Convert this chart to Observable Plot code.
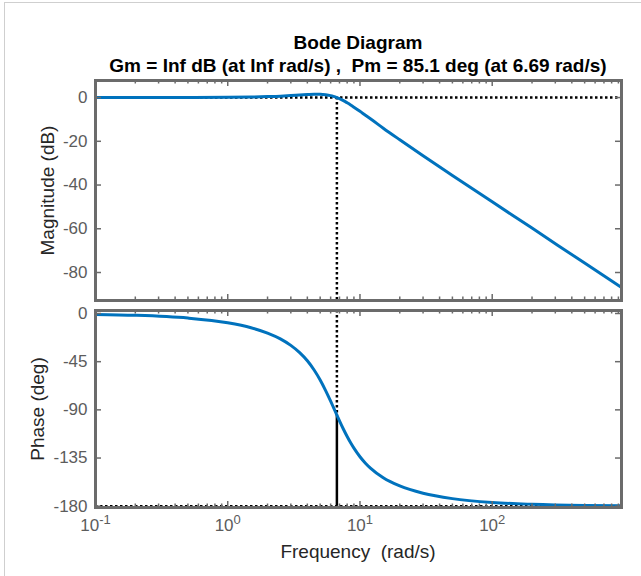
<!DOCTYPE html>
<html>
<head>
<meta charset="utf-8">
<script src="https://cdn.jsdelivr.net/npm/d3@7"></script>
<script src="https://cdn.jsdelivr.net/npm/@observablehq/plot@0.6"></script>
<style>
  html, body { margin: 0; padding: 0; background: #fff; overflow: hidden; }
  #fig { position: relative; width: 641px; height: 576px; background: #fff;
         font-family: "Liberation Sans", Arial, Helvetica, sans-serif; }
  .edge { position: absolute; left: 4px; top: 2px; width: 637px; height: 574px;
          border-top: 1px solid #cfcfcf; border-left: 1px solid #cfcfcf; box-sizing: border-box; }
  .ttl { position: absolute; left: 8px; width: 700px; text-align: center; font-weight: bold;
         font-size: 19px; line-height: 22px; color: #000; white-space: pre; }
  .xl { position: absolute; left: 58px; width: 600px; text-align: center;
        font-size: 19px; line-height: 22px; color: #262626; white-space: pre; }
  .panel { position: absolute; left: 0; }
</style>
</head>
<body>
<div id="fig">
  <div class="edge"></div>
  <div class="ttl" id="title" style="top:32px"></div>
  <div class="ttl" id="subtitle" style="top:55px"></div>
  <div class="panel" id="mag" style="top:0px"></div>
  <div class="panel" id="phase" style="top:305px"></div>
  <div class="xl" id="xlabel" style="top:541px"></div>
</div>
<script>
// ---- data ----
const freq     = [0.1, 0.2, 0.5, 1, 1.5, 2, 2.5, 3, 3.5, 4, 4.5, 5, 5.5, 6, 6.3, 6.69, 7, 7.5, 8, 8.5, 9, 10, 11, 12, 15, 20, 30, 50, 100, 200, 500, 950];
const magDb    = [0, 0, 0.03, 0.1, 0.25, 0.45, 0.65, 0.9, 1.15, 1.35, 1.5, 1.5, 1.3, 0.9, 0.55, 0, -0.5, -1.4, -2.4, -3.4, -4.4, -6.3, -8.1, -9.7, -14, -19.3, -26.6, -35.6, -47.7, -59.7, -75.7, -86.8];
const phaseDeg = [-0.9, -1.7, -4.3, -8.7, -13.3, -18.3, -23.7, -29.8, -36.6, -44.2, -52.8, -62.1, -72, -81.9, -87.7, -94.9, -100.3, -108.1, -114.9, -120.8, -125.8, -133.8, -139.8, -144.4, -153.4, -161.1, -167.9, -172.9, -176.5, -178.2, -179.3, -179.6];

const xDomain     = [0.1, 950];
const magDomain   = [-92.8, 7.8];
const phaseDomain = [-181.2, 2.8];
const magTicks    = [0, -20, -40, -60, -80];
const phaseTicks  = [0, -45, -90, -135, -180];
const decadeTicks = [0.1, 1, 10, 100];
const decadeExps  = ["-1", "0", "1", "2"];
const minorMult   = [2, 3, 4, 5, 6, 7, 8, 9];

const crossFreq     = 6.69;   // rad/s
const crossPhase    = -94.9;  // deg (= -180 + Pm)
const refDb         = 0;
const refPhase      = -180;

const titleText    = "Bode Diagram";
const subtitleText = "Gm = Inf dB (at Inf rad/s) ,  Pm = 85.1 deg (at 6.69 rad/s)";
const magLabel     = "Magnitude (dB)";
const phaseLabel   = "Phase (deg)";
const xLabelText   = "Frequency  (rad/s)";

// ---- styling ----
const blue = "#0072BD";
const frameColor = "#6b6b6b";
const tickColor = "#5c5c5c";
const font = "'Liberation Sans', Arial, Helvetica, sans-serif";
const dotted = {stroke: "#000", strokeWidth: 2.5, strokeDasharray: "2.5,2.5"};

const rows = freq.map((f, i) => ({f, mag: magDb[i], ph: phaseDeg[i]}));
const minorTicks = decadeTicks.flatMap(d => minorMult.map(k => d * k)).filter(v => v <= xDomain[1]);

const W = 641, ML = 95, MR = 20;
const innerW = W - ML - MR;

function edgeTicks(yTicks, innerH) {
  const tk = {stroke: frameColor, strokeWidth: 1.5};
  return [
    Plot.tickX(decadeTicks, {x: d => d, insetTop: innerH - 6, ...tk}),
    Plot.tickX(decadeTicks, {x: d => d, insetBottom: innerH - 6, ...tk}),
    Plot.tickX(minorTicks, {x: d => d, insetTop: innerH - 3.5, ...tk}),
    Plot.tickX(minorTicks, {x: d => d, insetBottom: innerH - 3.5, ...tk}),
    Plot.tickY(yTicks, {y: d => d, insetRight: innerW - 6, ...tk}),
    Plot.tickY(yTicks, {y: d => d, insetLeft: innerW - 6, ...tk})
  ];
}

// ---- magnitude panel ----
const magH = 305, magMT = 80, magMB = 5;
const magPlot = Plot.plot({
  width: W, height: magH,
  marginTop: magMT, marginBottom: magMB, marginLeft: ML, marginRight: MR,
  style: {fontFamily: font, fontSize: "17px", background: "transparent", overflow: "visible"},
  x: {type: "log", domain: xDomain, axis: null},
  y: {domain: magDomain, axis: null},
  marks: [
    Plot.ruleY([refDb], dotted),
    Plot.ruleX([crossFreq], {y1: refDb, y2: magDomain[0], ...dotted}),
    Plot.line(rows, {x: "f", y: "mag", stroke: blue, strokeWidth: 3, curve: "monotone-x"}),
    ...edgeTicks(magTicks, magH - magMT - magMB),
    Plot.axisY(magTicks, {tickSize: 0, tickPadding: 8, color: tickColor, fontSize: 17, label: null, tickFormat: d => String(d)}),
    Plot.frame({stroke: frameColor, strokeWidth: 3}),
    Plot.text([magLabel], {text: d => d, frameAnchor: "left", textAnchor: "middle", lineAnchor: "middle", dx: -48, rotate: -90, fontSize: 19, fill: "#262626"})
  ]
});
document.getElementById("mag").appendChild(magPlot);

// ---- phase panel ----
const phH = 271, phMT = 5, phMB = 69;
const phasePlot = Plot.plot({
  width: W, height: phH,
  marginTop: phMT, marginBottom: phMB, marginLeft: ML, marginRight: MR,
  style: {fontFamily: font, fontSize: "17px", background: "transparent", overflow: "visible"},
  x: {type: "log", domain: xDomain, axis: null},
  y: {domain: phaseDomain, axis: null},
  marks: [
    Plot.ruleY([refPhase], dotted),
    Plot.ruleX([crossFreq], {y1: phaseDomain[1], y2: crossPhase, ...dotted}),
    Plot.ruleX([crossFreq], {y1: refPhase, y2: crossPhase, stroke: "#000", strokeWidth: 2.5}),
    Plot.line(rows, {x: "f", y: "ph", stroke: blue, strokeWidth: 3, curve: "monotone-x"}),
    ...edgeTicks(phaseTicks, phH - phMT - phMB),
    Plot.axisY(phaseTicks, {tickSize: 0, tickPadding: 8, color: tickColor, fontSize: 17, label: null, tickFormat: d => String(d)}),
    Plot.axisX(decadeTicks, {tickSize: 0, tickPadding: 11, color: tickColor, fontSize: 17, label: null, tickFormat: () => "10"}),
    Plot.frame({stroke: frameColor, strokeWidth: 3}),
    Plot.text([phaseLabel], {text: d => d, frameAnchor: "left", textAnchor: "middle", lineAnchor: "middle", dx: -58, rotate: -90, fontSize: 19, fill: "#262626"})
  ]
});
document.getElementById("phase").appendChild(phasePlot);

// superscript exponents on the decade labels
phasePlot.querySelectorAll('g[aria-label="x-axis tick label"] text').forEach((t, i) => {
  const ts = document.createElementNS("http://www.w3.org/2000/svg", "tspan");
  ts.setAttribute("dy", "-7");
  ts.setAttribute("font-size", "13");
  ts.textContent = decadeExps[i];
  t.appendChild(ts);
});

document.getElementById("title").textContent = titleText;
document.getElementById("subtitle").textContent = subtitleText;
document.getElementById("xlabel").textContent = xLabelText;
</script>
</body>
</html>
